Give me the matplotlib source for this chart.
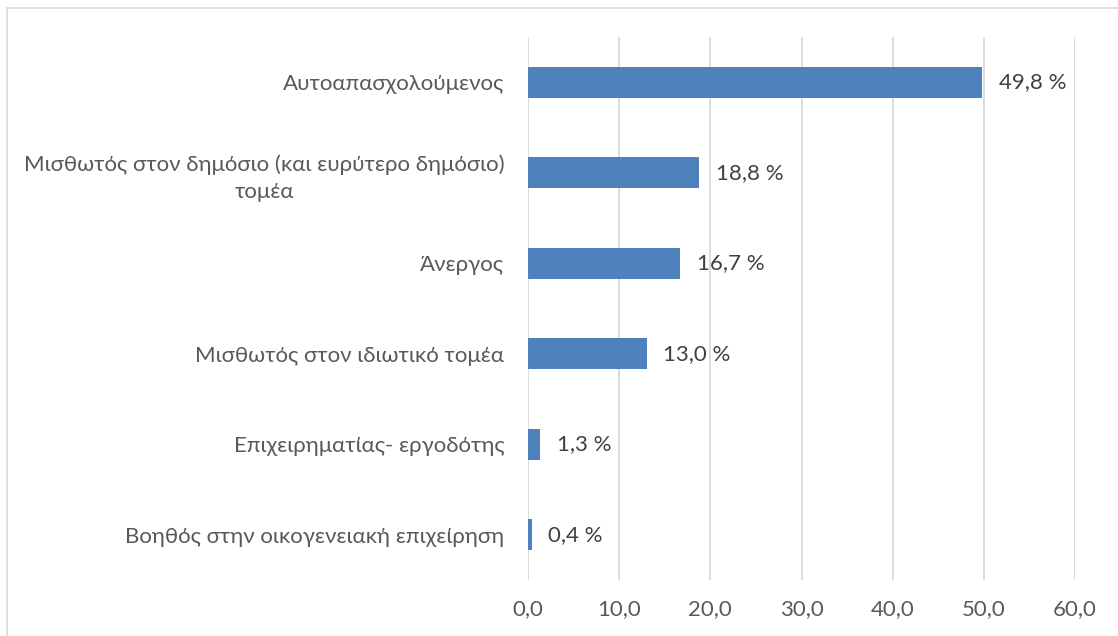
import matplotlib
matplotlib.use("Agg")
import matplotlib.pyplot as plt
from matplotlib.patches import Rectangle

plt.rcParams['font.family'] = ['Lato', 'DejaVu Sans']

categories = [
    "Αυτοαπασχολούμενος",
    "Μισθωτός στον δημόσιο (και ευρύτερο δημόσιο)\nτομέα",
    "Άνεργος",
    "Μισθωτός στον ιδιωτικό τομέα",
    "Επιχειρηματίας- εργοδότης",
    "Βοηθός στην οικογενειακή επιχείρηση",
]
values = [49.8, 18.8, 16.7, 13.0, 1.3, 0.4]
x_ticks = [0, 10, 20, 30, 40, 50, 60]
x_tick_labels = ["0,0", "10,0", "20,0", "30,0", "40,0", "50,0", "60,0"]

W, H = 1118, 636
fig = plt.figure(figsize=(W / 100, H / 100), dpi=100)
fig.patch.set_facecolor("white")

# outer chart frame
fig.add_artist(Rectangle((7 / W, -0.05), 1.2, (H - 8) / H + 0.05, transform=fig.transFigure,
                         fill=False, edgecolor="#D9D9D9", linewidth=1.2))

ax = fig.add_axes([528 / W, 56 / H, (1075 - 528) / W, (580 - 37) / H])
ypos = list(range(len(categories)))[::-1]
bars = ax.barh(ypos, values, height=0.34, color="#4F81BD", zorder=3)

ax.set_xlim(0, 60)
ax.set_ylim(-0.5, len(categories) - 0.5)
ax.set_xticks(x_ticks)
ax.set_xticklabels(x_tick_labels)
ax.set_yticks(ypos)
ax.set_yticklabels(categories, multialignment="center", linespacing=1.45)

for sp in ax.spines.values():
    sp.set_visible(False)
ax.grid(axis="x", color="#D9D9D9", linewidth=1.3, zorder=0)
ax.tick_params(axis="both", length=0, colors="#595959", labelsize=16)
ax.tick_params(axis="y", pad=17)
ax.tick_params(axis="x", pad=14)

for b, v in zip(bars, values):
    ax.annotate(f"{v:.1f} %".replace(".", ","), (b.get_width(), b.get_y() + b.get_height() / 2),
                xytext=(12, 0), textcoords="offset points", va="center", ha="left",
                fontsize=16, color="#404040")

fig.savefig("out.png", dpi=100)
